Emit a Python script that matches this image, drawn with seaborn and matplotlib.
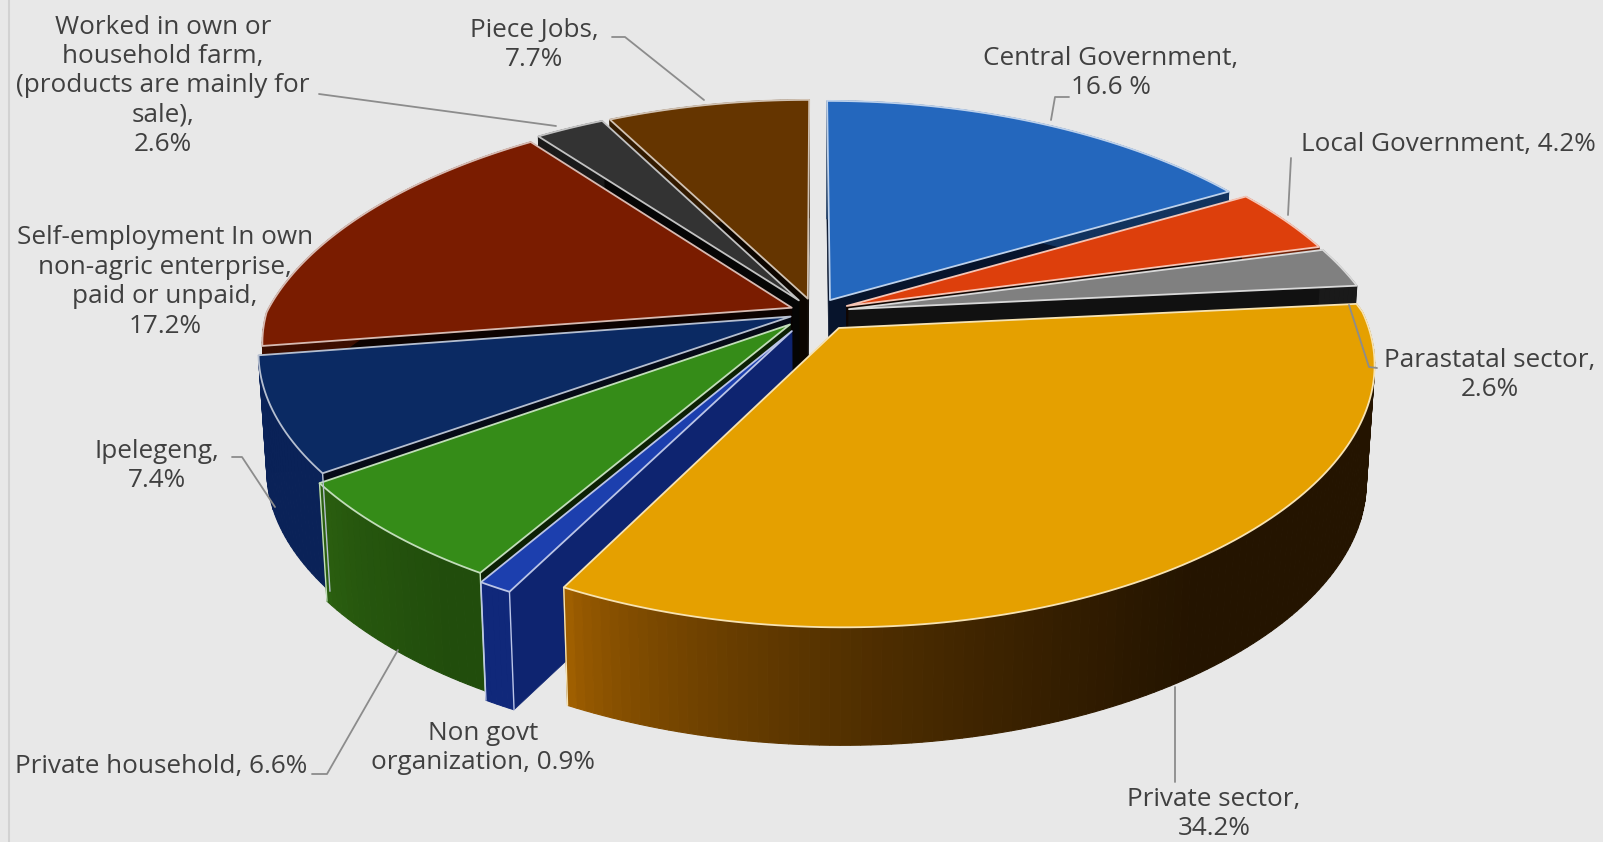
import numpy as np
import matplotlib
matplotlib.use("Agg")
import matplotlib.pyplot as plt
from matplotlib.colors import to_rgb
from matplotlib.patches import Polygon
import seaborn as sns

# Share of employed persons by employer type, in percent, clockwise from 12 o'clock
sectors = ["Central Government", "Local Government", "Parastatal sector", "Private sector",
           "Non govt organization", "Private household", "Ipelegeng",
           "Self-employment", "Worked in own farm", "Piece Jobs"]
shares = [16.6, 4.2, 2.6, 34.2, 0.9, 6.6, 7.4, 17.2, 2.6, 7.7]

top_colors = ["#2467bd", "#dd3f0c", "#808080", "#e5a000", "#1c3fae",
              "#358c18", "#0b2a63", "#7a1c00", "#333333", "#653500"]
wall_left = ["#12335e", "#6e2006", "#1a1a1a", "#a86400", "#10287a",
             "#2c6210", "#0a2258", "#3d0e00", "#1a1a1a", "#321a00"]
wall_right = ["#12335e", "#6e2006", "#1a1a1a", "#241400", "#10287a",
              "#214d0c", "#0a2258", "#3d0e00", "#1a1a1a", "#321a00"]
cut_colors = ["#07142c", "#100500", "#111111", "#111111", "#0e2470",
              "#0c2004", "#050a16", "#0c0200", "#050505", "#0c0500"]
explode = [0.058, 0.066, 0.066, 0.08, 0.09, 0.07, 0.05, 0.048, 0.058, 0.058]
# Back-to-front painting order
paint_order = [0, 9, 8, 1, 2, 7, 6, 5, 4, 3]

sns.set_theme(style="white")
plt.rcParams["font.family"] = ["Open Sans", "DejaVu Sans"]
BG = "#e8e8e8"
TEXT = "#404040"
LEADER = "#8c8c8c"

fig = plt.figure(figsize=(16.03, 8.42), dpi=100, facecolor=BG)
ax = fig.add_axes([0, 0, 1, 1])
ax.set_xlim(0, 1603)
ax.set_ylim(842, 0)
ax.axis("off")
sns.despine(ax=ax, left=True, bottom=True)

CX, CY = 815.0, 312.0
RX, RY = 525.0, 239.0
PX_FRONT, PX_BACK, PY = 0.14, 0.24, 0.18
DEPTH = 118.0


def project(x, y, z=0.0):
    """Tilted-disc projection; z=0 is the top face, z=1 the underside."""
    x, y = np.asarray(x, float), np.asarray(y, float)
    px = np.where(y > 0, PX_BACK, PX_FRONT)
    sx = CX + RX * x / (1 + px * y)
    sy = CY - RY * y / (1 + PY * y) + DEPTH * z
    sx = CX + (sx - CX) * (1 - 0.015 * z)
    return sx, sy


def lighten(color, amount=0.7):
    r = np.array(to_rgb(color))
    return tuple(r + (1 - r) * amount)


def blend(a, b, t):
    return tuple(np.array(to_rgb(a)) * (1 - t) + np.array(to_rgb(b)) * t)


cum = np.concatenate([[0], np.cumsum(shares)]) / sum(shares) * 2 * np.pi

for i in paint_order:
    a0, a1 = cum[i], cum[i + 1]
    mid = (a0 + a1) / 2
    ox, oy = explode[i] * np.sin(mid), explode[i] * np.cos(mid)
    th = np.linspace(a0, a1, max(6, int((a1 - a0) * 60)))
    rim_x, rim_y = ox + np.sin(th), oy + np.cos(th)

    # Cut faces exposed by the exploded gap
    for k in (0, -1):
        quad = [project(ox, oy, 0), project(rim_x[k], rim_y[k], 0),
                project(rim_x[k], rim_y[k], 1), project(ox, oy, 1)]
        ax.add_patch(Polygon(np.array(quad, float), closed=True, fc=cut_colors[i], ec=cut_colors[i], lw=0.5))

    # Outer wall, drawn in strips for the horizontal shading
    xs = project(rim_x, rim_y)[0]
    lo, hi = xs.min(), xs.max()
    for j in range(len(th) - 1):
        t = ((xs[j] + xs[j + 1]) / 2 - lo) / max(hi - lo, 1)
        col = blend(wall_left[i], wall_right[i], min(1.0, t ** 0.55 * 1.15))
        quad = [project(rim_x[j], rim_y[j], 0), project(rim_x[j + 1], rim_y[j + 1], 0),
                project(rim_x[j + 1], rim_y[j + 1], 1), project(rim_x[j], rim_y[j], 1)]
        ax.add_patch(Polygon(np.array(quad, float), closed=True, fc=col, ec=col, lw=0.8))

    # Pale edge on the vertical wall ends that face the viewer
    edge = lighten(top_colors[i])
    for k in (0, -1):
        bx, by = project(rim_x[k], rim_y[k], 1)
        tx, ty = project(rim_x[k], rim_y[k], 0)
        if rim_y[k] < -0.3:
            ax.plot([tx, bx], [ty, by], color=edge, lw=1.0, solid_capstyle="round")

    # Top face
    px, py = project(np.r_[ox, rim_x], np.r_[oy, rim_y])
    ax.add_patch(Polygon(np.c_[px, py], closed=True, fc=top_colors[i], ec=edge, lw=1.3, joinstyle="round"))

# Left frame edge
ax.plot([9, 9], [0, 842], color="#d2d2d2", lw=1.5)

labels = [
    ("Central Government,\n16.6 %", 1111, 73),
    ("Local Government, 4.2%", 1448, 145),
    ("Parastatal sector,\n2.6%", 1490, 375),
    ("Private sector,\n34.2%", 1214, 814),
    ("Non govt\norganization, 0.9%", 483, 748),
    ("Private household, 6.6%", 161, 767),
    ("Ipelegeng,\n7.4%", 157, 466),
    ("Self-employment In own\nnon-agric enterprise,\npaid or unpaid,\n17.2%", 165, 282),
    ("Worked in own or\nhousehold farm,\n(products are mainly for\nsale),\n2.6%", 163, 86),
    ("Piece Jobs,\n7.7%", 534, 45),
]
for text, x, y in labels:
    ax.text(x, y, text, ha="center", va="center", fontsize=18.8, color=TEXT, linespacing=1.23)

leaders = [
    [(612, 37), (625, 37), (704, 100)],
    [(319, 94), (556, 126)],
    [(1069, 97), (1055, 97), (1051, 120)],
    [(1291, 158), (1288, 215)],
    [(1377, 368), (1369, 367), (1349, 305)],
    [(232, 457), (242, 457), (275, 507)],
    [(312, 774), (327, 774), (398, 650)],
    [(1175, 687), (1175, 782)],
]
for pts in leaders:
    lx, ly = zip(*pts)
    ax.plot(lx, ly, color=LEADER, lw=1.3)

fig.savefig("out.png", dpi=100, facecolor=BG)
